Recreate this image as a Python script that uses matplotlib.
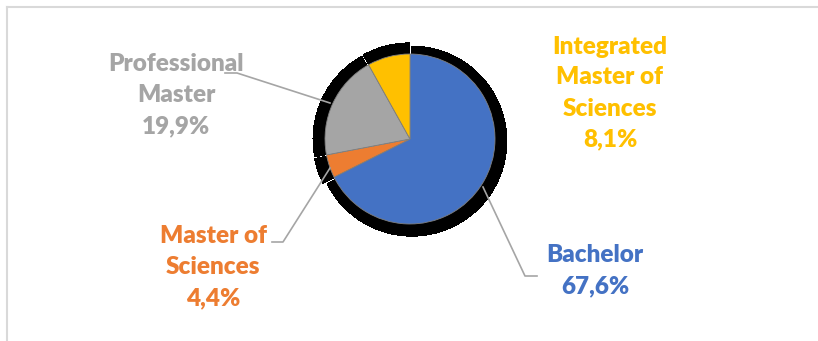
import matplotlib
matplotlib.use("Agg")
import matplotlib.pyplot as plt

# Data
categories = ["Bachelor", "Master of\nSciences", "Professional\nMaster", "Integrated\nMaster of\nSciences"]
values = [67.6, 4.4, 19.9, 8.1]
pct_labels = ["67,6%", "4,4%", "19,9%", "8,1%"]
colors = ["#4472C4", "#ED7D31", "#A5A5A5", "#FFC000"]

W, H = 818, 341
fig = plt.figure(figsize=(W / 100, H / 100), dpi=100)
ax = fig.add_axes([0, 0, 1, 1])

def Y(y):
    return H - y

cx, cy, r = 410, Y(139), 85

# shadow
ax.pie(values, colors=["black"] * len(values), startangle=90, counterclock=False,
       radius=95, center=(cx, cy - 1), explode=[2.2] * len(values),
       wedgeprops=dict(linewidth=0, antialiased=False), frame=True)
# main pie
ax.pie(values, colors=colors, startangle=90, counterclock=False,
       radius=r, center=(cx, cy),
       wedgeprops=dict(linewidth=0.6, edgecolor="#7f7f7f"), frame=True)
ax.set_xlim(0, W)
ax.set_ylim(0, H)
ax.set_aspect("equal")
ax.axis("off")

# border
ax.plot([7, W], [Y(7), Y(7)], color="#D9D9D9", lw=1.5, zorder=0)
ax.plot([7, 7], [Y(7), 0], color="#D9D9D9", lw=1.5, zorder=0)

font = dict(family=["Lato", "DejaVu Sans"], fontweight="heavy", fontsize=17.5,
            ha="center", va="center", linespacing=1.5)

label_pos = [(595, 271), (213, 267), (176, 95), (610, 93)]
for cat, pct, col, (x, y) in zip(categories, pct_labels, colors, label_pos):
    ax.text(x, Y(y), cat + "\n" + pct, color=col, **font)

lc = "#A5A5A5"
ax.plot([483, 525, 537], [Y(187), Y(276), Y(276)], color=lc, lw=1.2)
ax.plot([272, 283, 330], [Y(242), Y(242), Y(168)], color=lc, lw=1.2)
ax.plot([225, 237, 330], [Y(73), Y(73), Y(103)], color=lc, lw=1.2)

fig.savefig("out.png", dpi=100)
